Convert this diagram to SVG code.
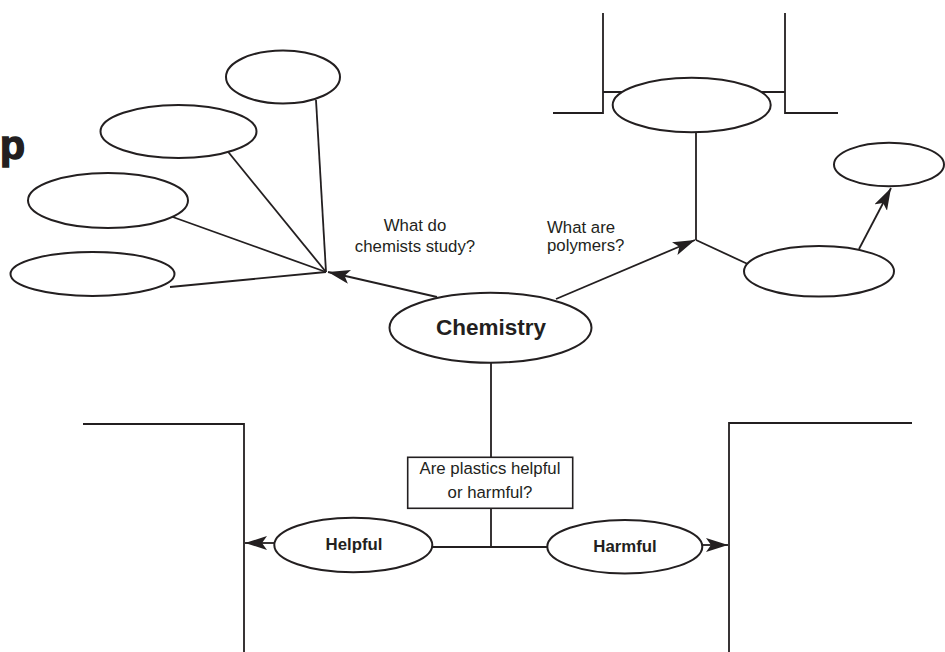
<svg xmlns="http://www.w3.org/2000/svg" width="945" height="652" viewBox="0 0 945 652">
<style>
.ln{stroke:#231f20;stroke-width:1.8;fill:none}
.el{stroke:#231f20;stroke-width:2;fill:#fff}
.tx{font-family:"Liberation Sans",Arial,sans-serif;fill:#231f20;font-size:16.8px}
.bd{font-weight:bold}
</style>
<defs>
<marker id="ah" markerUnits="userSpaceOnUse" markerWidth="24" markerHeight="16" refX="22" refY="7" orient="auto">
<path d="M0,0 L22,7 L0,14 L5,7 z" fill="#231f20"/>
</marker>
</defs>
<rect width="945" height="652" fill="#fff"/>
<g id="title">
<text x="0" y="159" font-family="'Liberation Sans',Arial,sans-serif" font-weight="900" font-size="41" fill="#231f20" stroke="#231f20" stroke-width="1.5">p</text>
</g>
<g id="connectors">
<line class="ln" x1="437" y1="297" x2="328" y2="272" marker-end="url(#ah)"/>
<line class="ln" x1="316" y1="100" x2="326" y2="272"/>
<line class="ln" x1="225" y1="148" x2="326" y2="272"/>
<line class="ln" x1="170" y1="216" x2="326" y2="272"/>
<line class="ln" x1="170" y1="287" x2="326" y2="272"/>
<line class="ln" x1="556" y1="299" x2="695" y2="240" marker-end="url(#ah)"/>
<line class="ln" x1="696" y1="120" x2="696" y2="240"/>
<line class="ln" x1="696" y1="240" x2="752" y2="266"/>
<line class="ln" x1="859" y1="249" x2="891" y2="188" marker-end="url(#ah)"/>
<polyline class="ln" points="553,113 603,113 603,13"/>
<polyline class="ln" points="838,113 785,113 785,13"/>
<line class="ln" x1="603" y1="92" x2="640" y2="92"/>
<line class="ln" x1="745" y1="92" x2="785" y2="92"/>
<line class="ln" x1="491" y1="350" x2="491" y2="547"/>
<line class="ln" x1="420" y1="547" x2="560" y2="547"/>
<line class="ln" x1="276" y1="543" x2="245" y2="543" marker-end="url(#ah)"/>
<line class="ln" x1="700" y1="545" x2="728" y2="545" marker-end="url(#ah)"/>
<polyline class="ln" points="83,424 244,424 244,652"/>
<polyline class="ln" points="912,423 729,423 729,652"/>
</g>
<g id="n-study1"><ellipse class="el" cx="283" cy="77" rx="57" ry="26.5"/></g>
<g id="n-study2"><ellipse class="el" cx="178.5" cy="131.5" rx="78" ry="26.5"/></g>
<g id="n-study3"><ellipse class="el" cx="108" cy="200.5" rx="80" ry="27.5"/></g>
<g id="n-study4"><ellipse class="el" cx="92.5" cy="274" rx="82" ry="22"/></g>
<g id="n-chemistry">
<ellipse class="el" cx="490.5" cy="327.7" rx="101" ry="35"/>
<text class="tx bd" x="491" y="335" text-anchor="middle" style="font-size:22.5px">Chemistry</text>
</g>
<g id="l-study">
<text class="tx" x="415" y="231" text-anchor="middle">What do</text>
<text class="tx" x="415" y="251.5" text-anchor="middle">chemists study?</text>
</g>
<g id="l-polymers">
<text class="tx" x="547" y="232.5">What are</text>
<text class="tx" x="547" y="251">polymers?</text>
</g>
<g id="n-poly-top"><ellipse class="el" cx="691.7" cy="105" rx="79" ry="27.3"/></g>
<g id="n-poly-right"><ellipse class="el" cx="819" cy="271.3" rx="75" ry="25.3"/></g>
<g id="n-poly-far"><ellipse class="el" cx="889" cy="164.5" rx="55" ry="21.8"/></g>
<g id="n-question">
<rect x="407.7" y="457.3" width="165" height="51" fill="#fff" stroke="#231f20" stroke-width="1.6"/>
<text class="tx" x="490" y="473.5" text-anchor="middle">Are plastics helpful</text>
<text class="tx" x="490" y="497.7" text-anchor="middle">or harmful?</text>
</g>
<g id="n-helpful">
<ellipse class="el" cx="353.3" cy="545" rx="79" ry="27.3"/>
<text class="tx bd" x="354" y="549.5" text-anchor="middle">Helpful</text>
</g>
<g id="n-harmful">
<ellipse class="el" cx="624.8" cy="546.7" rx="77.5" ry="26.7"/>
<text class="tx bd" x="625" y="552.3" text-anchor="middle">Harmful</text>
</g>
</svg>
